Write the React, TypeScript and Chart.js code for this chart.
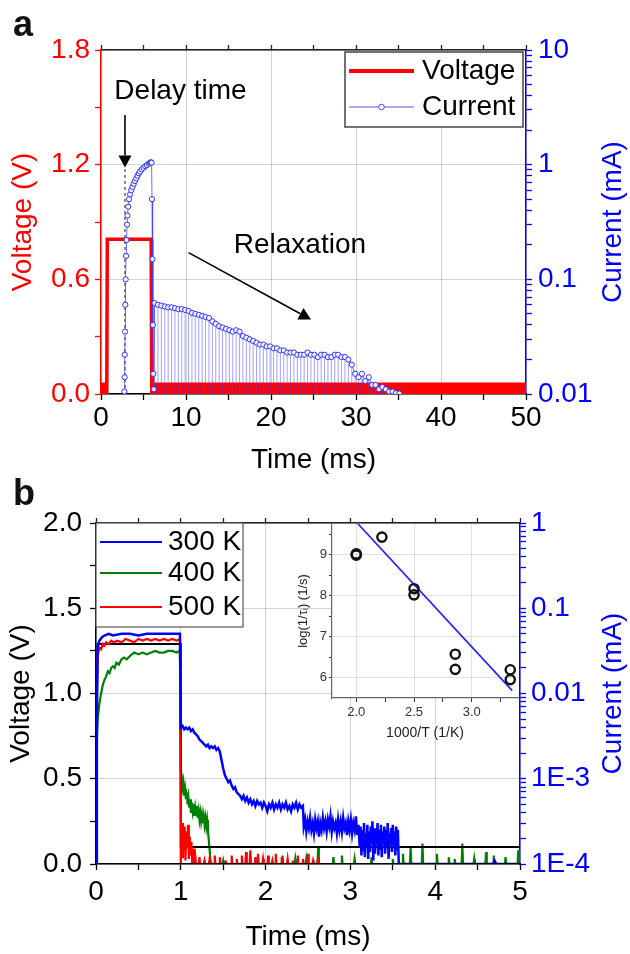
import React, { useEffect, useRef } from 'react';
import { Chart, registerables } from 'chart.js';

Chart.register(...registerables);

const FONT = '"Liberation Sans", Arial, Helvetica, sans-serif';
Chart.defaults.font.family = FONT;
Chart.defaults.color = '#000';

const RED = '#ff0000';
const BLUE = '#0000ff';
const GREEN = '#008000';
const GRID = 'rgba(0,0,0,0.17)';

/* ---------------- panel a data ---------------- */
const aVoltage = [[0, 0], [0.68, 0], [0.74, 0.81], [5.9, 0.81], [5.97, 0], [50, 0]];
const aNoiseBeforePulse = [[0, 0.06], [0.68, 0.06]];
const aNoiseAfterPulse = [[5.97, 0.06], [50, 0.06]];
const aCurrentRise = [
  [2.75, 0.0105], [2.78, 0.014], [2.8, 0.022], [2.83, 0.035], [2.86, 0.06], [2.9, 0.1], [2.95, 0.16],
  [3.0, 0.22], [3.06, 0.3], [3.12, 0.36], [3.2, 0.43], [3.3, 0.5], [3.42, 0.55], [3.56, 0.6], [3.7, 0.64],
  [3.85, 0.68], [4.0, 0.72], [4.15, 0.76], [4.3, 0.8], [4.45, 0.84], [4.6, 0.87], [4.8, 0.91], [5.0, 0.94],
  [5.2, 0.97], [5.4, 0.99], [5.6, 1.02], [5.75, 1.04], [5.85, 1.05], [5.95, 1.04], [6.0, 0.5], [6.05, 0.15],
  [6.1, 0.04], [6.15, 0.015], [6.2, 0.011],
];
const aCurrentRelax = [
  [6.3, 0.062], [6.7, 0.06], [7.1, 0.059], [7.5, 0.058], [7.9, 0.057], [8.3, 0.057], [8.7, 0.056], [9.1, 0.055],
  [9.5, 0.055], [9.9, 0.054], [10.3, 0.053], [10.7, 0.051], [11.1, 0.05], [11.5, 0.049], [11.9, 0.048],
  [12.3, 0.047], [12.7, 0.046], [13.1, 0.043], [13.5, 0.041], [13.9, 0.039], [14.3, 0.038], [14.7, 0.037],
  [15.1, 0.036], [15.5, 0.035], [15.9, 0.036], [16.3, 0.035], [16.7, 0.032], [17.1, 0.031], [17.5, 0.03],
  [17.9, 0.029], [18.3, 0.028], [18.7, 0.027], [19.1, 0.027], [19.5, 0.026], [19.9, 0.026], [20.3, 0.025],
  [20.7, 0.025], [21.1, 0.024], [21.5, 0.024], [21.9, 0.023], [22.3, 0.023], [22.7, 0.023], [23.1, 0.022],
  [23.5, 0.022], [23.9, 0.022], [24.3, 0.023], [24.7, 0.022], [25.1, 0.022], [25.5, 0.021], [25.9, 0.022],
  [26.3, 0.022], [26.7, 0.021], [27.1, 0.021], [27.5, 0.022], [27.9, 0.022], [28.3, 0.021], [28.7, 0.021],
  [29.1, 0.02], [29.5, 0.018], [29.9, 0.015], [30.3, 0.014], [30.7, 0.015], [31.1, 0.013], [31.5, 0.014],
  [31.9, 0.012], [32.3, 0.012], [32.7, 0.011], [33.1, 0.0115], [33.5, 0.011], [33.9, 0.0105], [34.3, 0.0105],
  [34.7, 0.0102], [35.1, 0.0101],
];
const aDelayMarker = [[2.82, 0], [2.82, 1.18]];

const aTimeTicks = [0, 5, 10, 15, 20, 25, 30, 35, 40, 45, 50];
const aTimeLabels = ['0', '', '10', '', '20', '', '30', '', '40', '', '50'];
const aVoltTicks = [0, 0.3, 0.6, 0.9, 1.2, 1.5, 1.8];
const aVoltLabels = ['0.0', '', '0.6', '', '1.2', '', '1.8'];
const aCurrDecades = [0.01, 0.1, 1, 10];
const aCurrDecadeLabels = ['0.01', '0.1', '1', '10'];

const aTexts = [
  { text: 'Delay time', t: 9.35, v: 1.586 },
  { text: 'Relaxation', t: 23.4, v: 0.78 },
];
const aArrows = [
  { t1: 2.82, v1: 1.46, t2: 2.82, v2: 1.185 },
  { t1: 10.3, v1: 0.74, t2: 24.7, v2: 0.39 },
];

/* ---------------- panel b data ---------------- */
const b300K = [
  [0, 0], [0.01, 1.0], [0.02, 1.28], [0.04, 1.31], [0.07, 1.33], [0.1, 1.34], [0.15, 1.35], [0.2, 1.34],
  [0.3, 1.35], [0.4, 1.35], [0.5, 1.34], [0.6, 1.35], [0.7, 1.35], [0.8, 1.35], [0.9, 1.35], [0.99, 1.35],
  [1.0, 0.8], [1.02, 0.81], [1.04, 0.79], [1.06, 0.8], [1.08, 0.79], [1.1, 0.8], [1.12, 0.78], [1.14, 0.79],
  [1.16, 0.77], [1.18, 0.76], [1.2, 0.75], [1.22, 0.73], [1.24, 0.72], [1.26, 0.71], [1.28, 0.7], [1.3, 0.69],
  [1.32, 0.7], [1.34, 0.68], [1.36, 0.69], [1.38, 0.68], [1.4, 0.69], [1.42, 0.67], [1.44, 0.68], [1.46, 0.66],
  [1.48, 0.61], [1.5, 0.56], [1.52, 0.52], [1.54, 0.5], [1.56, 0.48], [1.58, 0.49],
  [1.6, 0.46], [1.62, 0.44], [1.64, 0.45], [1.66, 0.42], [1.68, 0.41], [1.7, 0.4], [1.72, 0.38], [1.74, 0.4],
  [1.76, 0.37], [1.78, 0.39], [1.8, 0.36], [1.82, 0.38], [1.84, 0.35], [1.86, 0.37], [1.88, 0.34], [1.9, 0.37],
  [1.92, 0.35], [1.94, 0.36], [1.96, 0.33], [1.98, 0.36], [2.0, 0.34], [2.02, 0.31], [2.04, 0.35], [2.06, 0.33],
  [2.08, 0.36], [2.1, 0.32], [2.12, 0.35], [2.14, 0.33], [2.16, 0.36], [2.18, 0.32], [2.2, 0.35], [2.22, 0.33],
  [2.24, 0.36], [2.26, 0.32], [2.28, 0.34], [2.3, 0.31], [2.32, 0.35], [2.34, 0.33], [2.36, 0.36], [2.38, 0.32],
  [2.4, 0.35], [2.42, 0.33], [2.44, 0.34],
  [2.45, 0.22], [2.465, 0.26], [2.48, 0.19], [2.495, 0.25], [2.51, 0.21], [2.525, 0.27], [2.54, 0.2],
  [2.555, 0.24], [2.57, 0.18], [2.585, 0.26], [2.6, 0.21], [2.615, 0.25], [2.63, 0.16], [2.645, 0.24],
  [2.66, 0.2], [2.675, 0.27], [2.69, 0.21], [2.705, 0.25], [2.72, 0.19], [2.735, 0.26], [2.75, 0.22],
  [2.765, 0.28], [2.78, 0.19], [2.795, 0.25], [2.81, 0.21], [2.825, 0.24], [2.84, 0.18], [2.855, 0.26],
  [2.87, 0.2], [2.885, 0.25], [2.9, 0.19], [2.915, 0.27], [2.93, 0.21], [2.945, 0.24], [2.96, 0.17],
  [2.975, 0.25], [2.99, 0.2], [3.005, 0.26], [3.02, 0.18], [3.035, 0.24], [3.05, 0.2], [3.065, 0.28],
  [3.08, 0.17], [3.095, 0.23],
  [3.11, 0.1], [3.12, 0.22], [3.13, 0.05], [3.14, 0.2], [3.15, 0.08], [3.16, 0.24], [3.17, 0.04], [3.18, 0.18],
  [3.19, 0.1], [3.2, 0.23], [3.21, 0.03], [3.22, 0.19], [3.23, 0.07], [3.24, 0.22], [3.25, 0.12], [3.26, 0.25],
  [3.27, 0.02], [3.28, 0.21], [3.29, 0.06], [3.3, 0.18], [3.31, 0.11], [3.32, 0.24], [3.33, 0.05], [3.34, 0.2],
  [3.35, 0.09], [3.36, 0.23], [3.37, 0.04], [3.38, 0.19], [3.39, 0.12], [3.4, 0.22], [3.41, 0.06], [3.42, 0.2],
  [3.43, 0.1], [3.44, 0.24], [3.45, 0.03], [3.46, 0.18], [3.47, 0.13], [3.48, 0.21], [3.49, 0.07], [3.5, 0.23],
  [3.51, 0.11], [3.52, 0.19], [3.53, 0.05], [3.54, 0.22], [3.55, 0.09], [3.56, 0.2], [3.57, 0],
  [4.68, 0], [4.7, 0.02], [4.72, 0], [5.0, 0],
];
const b400K = [
  [0, 0], [0.005, 0.65], [0.02, 0.85], [0.04, 0.94], [0.06, 1.0], [0.08, 1.05], [0.1, 1.08], [0.12, 1.1],
  [0.14, 1.13], [0.16, 1.12], [0.18, 1.15], [0.2, 1.16], [0.22, 1.15], [0.24, 1.18], [0.27, 1.17], [0.3, 1.2],
  [0.33, 1.21], [0.36, 1.2], [0.4, 1.22], [0.45, 1.24], [0.5, 1.23], [0.55, 1.24], [0.6, 1.23], [0.65, 1.24],
  [0.7, 1.25], [0.75, 1.24], [0.8, 1.24], [0.85, 1.25], [0.9, 1.25], [0.95, 1.24], [0.99, 1.25], [1.0, 0.55],
  [1.01, 0.52], [1.02, 0.45], [1.03, 0.48], [1.04, 0.4], [1.05, 0.44], [1.06, 0.38], [1.07, 0.42], [1.08, 0.35],
  [1.09, 0.39], [1.1, 0.33], [1.11, 0.38], [1.12, 0.3], [1.13, 0.36], [1.14, 0.31], [1.15, 0.35], [1.16, 0.28],
  [1.17, 0.33], [1.18, 0.29], [1.19, 0.34], [1.2, 0.27], [1.21, 0.31], [1.22, 0.26], [1.23, 0.3], [1.24, 0.25],
  [1.25, 0.29], [1.26, 0.24], [1.27, 0.28], [1.28, 0.23], [1.29, 0.27], [1.3, 0.22], [1.31, 0.26], [1.32, 0.2],
  [1.33, 0.14], [1.34, 0.08], [1.35, 0.02], [1.36, 0],
];
const b400KSpikes = [
  [1.5, 0.02], [1.9, 0.02], [2.2, 0.05], [2.35, 0.03], [2.48, 0.03], [2.62, 0.1], [2.8, 0.04], [2.9, 0.05],
  [3.05, 0.03], [3.25, 0.04], [3.5, 0.03], [3.62, 0.06], [3.71, 0.1], [3.85, 0.12], [4.02, 0.06], [4.16, 0.04],
  [4.23, 0.03], [4.32, 0.12], [4.46, 0.03], [4.6, 0.07], [4.69, 0.05], [4.83, 0.04], [4.98, 0.08],
];
const b500K = [
  [0, 0], [0.01, 1.1], [0.02, 1.22], [0.04, 1.27], [0.06, 1.26], [0.08, 1.29], [0.1, 1.28], [0.12, 1.3],
  [0.15, 1.29], [0.18, 1.31], [0.21, 1.3], [0.25, 1.31], [0.3, 1.3], [0.35, 1.32], [0.4, 1.31], [0.45, 1.3],
  [0.5, 1.32], [0.55, 1.31], [0.6, 1.32], [0.65, 1.31], [0.7, 1.32], [0.75, 1.31], [0.8, 1.32], [0.85, 1.31],
  [0.9, 1.32], [0.95, 1.31], [0.99, 1.32], [1.0, 0], [1.005, 0.2], [1.015, 0.04], [1.025, 0.24], [1.035, 0.08],
  [1.045, 0.22], [1.055, 0.02], [1.065, 0.19], [1.075, 0.1], [1.085, 0.23], [1.095, 0.03], [1.105, 0.16],
  [1.115, 0.05], [1.125, 0.13], [1.135, 0], [1.145, 0.09], [1.155, 0], [1.17, 0.05], [1.18, 0],
];
const b500KSpikes = [
  [1.22, 0.04], [1.28, 0.02], [1.34, 0.03], [1.4, 0.05], [1.46, 0.04], [1.53, 0.02], [1.6, 0.05], [1.66, 0.03],
  [1.72, 0.05], [1.77, 0.07], [1.82, 0.08], [1.88, 0.04], [1.91, 0.06], [1.97, 0.03], [2.03, 0.05], [2.08, 0.02],
  [2.12, 0.06], [2.19, 0.04], [2.26, 0.03], [2.32, 0.02], [2.38, 0.05], [2.44, 0.03], [2.5, 0.06], [2.56, 0.02],
  [2.62, 0.04],
];
const bBaseline = [[0, 0], [0.02, 1.29], [1.0, 1.29], [1.0, 0.1], [5.0, 0.1]];

const bTimeTicks = [0, 0.5, 1, 1.5, 2, 2.5, 3, 3.5, 4, 4.5, 5];
const bTimeLabels = ['0', '', '1', '', '2', '', '3', '', '4', '', '5'];
const bVoltTicks = [0, 0.25, 0.5, 0.75, 1.0, 1.25, 1.5, 1.75, 2.0];
const bVoltLabels = ['0.0', '', '0.5', '', '1.0', '', '1.5', '', '2.0'];
const bCurrDecades = [1e-4, 1e-3, 0.01, 0.1, 1];
const bCurrDecadeLabels = ['1E-4', '1E-3', '0.01', '0.1', '1'];

/* ---------------- inset data ---------------- */
const insetPoints = [
  [2.0, 9.02], [2.0, 8.99], [2.222, 9.43], [2.5, 8.17], [2.5, 8.02], [2.857, 6.57], [2.857, 6.2],
  [3.333, 6.19], [3.333, 5.95],
];
const insetFit = [[2.0, 9.8], [3.35, 5.68]];
const insetXTicks = [2.0, 2.25, 2.5, 2.75, 3.0, 3.25];
const insetXLabels = ['2.0', '', '2.5', '', '3.0', ''];
const insetYTicks = [6, 6.5, 7, 7.5, 8, 8.5, 9, 9.5];
const insetYLabels = ['6', '', '7', '', '8', '', '9', ''];

const LOG_MINOR = [2, 3, 4, 5, 6, 7, 8, 9];

/* ---------------- helpers ---------------- */
const pts = (arr: number[][]) => arr.map(([x, y]) => ({ x, y }));

function withSpikes(base: number[][], spikes: number[][], end: number) {
  const out = [...base];
  spikes.forEach(([t, h]) => {
    out.push([t - 0.008, 0], [t, h], [t + 0.008, 0]);
  });
  out.push([end, 0]);
  return out;
}

function logTicks(decades: number[], labels: string[]) {
  const values: number[] = [];
  const labs: string[] = [];
  decades.forEach((d, i) => {
    values.push(d);
    labs.push(labels[i]);
    if (i < decades.length - 1) {
      LOG_MINOR.forEach((m) => {
        values.push(+(d * m).toPrecision(3));
        labs.push('');
      });
    }
  });
  return { values, labels: labs };
}

function axis(cfg: any) {
  const horizontal = cfg.position === 'top' || cfg.position === 'bottom';
  return {
    type: cfg.type || 'linear',
    position: cfg.position,
    min: cfg.min,
    max: cfg.max,
    offset: false,
    afterBuildTicks: (s: any) => {
      s.ticks = cfg.values.map((v: number) => ({ value: v }));
    },
    afterFit: (s: any) => {
      if (horizontal) s.height = cfg.size;
      else s.width = cfg.size;
    },
    ticks: {
      display: cfg.showLabels !== false,
      autoSkip: false,
      maxRotation: 0,
      minRotation: 0,
      color: cfg.color,
      font: { size: cfg.fontSize, family: FONT },
      padding: cfg.padding,
      callback: (_v: any, i: number) => cfg.labels[i] ?? '',
    },
    grid: {
      offset: false,
      drawOnChartArea: !!cfg.grid,
      color: (c: any) => (cfg.labels[c.index] ? cfg.gridColor || GRID : 'rgba(0,0,0,0)'),
      tickColor: cfg.tickColor || cfg.color,
      tickLength: cfg.tickLength,
      lineWidth: 1,
      tickWidth: cfg.tickWidth || 1.3,
    },
    border: {
      display: cfg.border !== false,
      color: cfg.borderColor || cfg.color,
      width: cfg.borderWidth ?? 1.5,
      z: cfg.borderZ ?? 0,
    },
    title: cfg.title
      ? {
          display: true,
          text: cfg.title.text,
          color: cfg.title.color,
          font: { size: cfg.title.size, family: FONT },
          padding: cfg.title.padding,
        }
      : { display: false },
  };
}

function drawText(ctx: CanvasRenderingContext2D, text: string, x: number, y: number, font: string, color: string, align: CanvasTextAlign = 'center', rotate = 0) {
  ctx.save();
  ctx.translate(x, y);
  if (rotate) ctx.rotate(rotate);
  ctx.font = font;
  ctx.fillStyle = color;
  ctx.textAlign = align;
  ctx.textBaseline = 'middle';
  ctx.fillText(text, 0, 0);
  ctx.restore();
}

function drawArrow(ctx: CanvasRenderingContext2D, x1: number, y1: number, x2: number, y2: number) {
  const ang = Math.atan2(y2 - y1, x2 - x1);
  const headLen = 12;
  const headW = 6.5;
  const bx = x2 - headLen * Math.cos(ang);
  const by = y2 - headLen * Math.sin(ang);
  ctx.save();
  ctx.strokeStyle = '#000';
  ctx.fillStyle = '#000';
  ctx.lineWidth = 1.6;
  ctx.beginPath();
  ctx.moveTo(x1, y1);
  ctx.lineTo(bx, by);
  ctx.stroke();
  ctx.beginPath();
  ctx.moveTo(x2, y2);
  ctx.lineTo(bx + headW * Math.sin(ang), by - headW * Math.cos(ang));
  ctx.lineTo(bx - headW * Math.sin(ang), by + headW * Math.cos(ang));
  ctx.closePath();
  ctx.fill();
  ctx.restore();
}

/* ---------------- panel a ---------------- */
function makeA(canvas: HTMLCanvasElement) {
  const current = [...aCurrentRise, ...aCurrentRelax];
  const stems = aCurrentRelax.flatMap(([x, y]) => [{ x, y: 0.01 }, { x, y }, { x, y: null }]);
  const currTicks = logTicks(aCurrDecades, aCurrDecadeLabels);

  const overlay = {
    id: 'overlayA',
    afterDraw(chart: any) {
      const { ctx, chartArea, scales } = chart;
      const xs = scales.x;
      const ys = scales.y;
      drawText(ctx, 'a', 23, 26, `bold 36px ${FONT}`, '#111');
      drawText(ctx, 'Current (mA)', 613, (chartArea.top + chartArea.bottom) / 2, `28px ${FONT}`, BLUE, 'center', -Math.PI / 2);
      aTexts.forEach((t) => drawText(ctx, t.text, xs.getPixelForValue(t.t), ys.getPixelForValue(t.v), `28px ${FONT}`, '#000'));
      aArrows.forEach((a) =>
        drawArrow(ctx, xs.getPixelForValue(a.t1), ys.getPixelForValue(a.v1), xs.getPixelForValue(a.t2), ys.getPixelForValue(a.v2)),
      );
      const ds = chart.data.datasets;
      const box = { x: 345, y: 52, w: 178, h: 75 };
      ctx.save();
      ctx.fillStyle = '#fff';
      ctx.fillRect(box.x, box.y, box.w, box.h);
      ctx.strokeStyle = '#444';
      ctx.lineWidth = 1.5;
      ctx.strokeRect(box.x, box.y, box.w, box.h);
      ctx.strokeStyle = RED;
      ctx.lineWidth = 4;
      ctx.beginPath();
      ctx.moveTo(349, 71);
      ctx.lineTo(414, 71);
      ctx.stroke();
      ctx.strokeStyle = 'rgba(90,90,255,0.7)';
      ctx.lineWidth = 1.5;
      ctx.beginPath();
      ctx.moveTo(349, 107);
      ctx.lineTo(414, 107);
      ctx.stroke();
      ctx.beginPath();
      ctx.arc(381.5, 107, 2.8, 0, Math.PI * 2);
      ctx.fillStyle = '#fff';
      ctx.fill();
      ctx.strokeStyle = 'rgba(60,60,255,0.9)';
      ctx.lineWidth = 1;
      ctx.stroke();
      ctx.restore();
      const vLabel = ds.find((d: any) => d.label === 'Voltage').label;
      const cLabel = ds.find((d: any) => d.label === 'Current').label;
      drawText(ctx, vLabel, 422, 71, `28px ${FONT}`, '#000', 'left');
      drawText(ctx, cLabel, 422, 107, `28px ${FONT}`, '#000', 'left');
    },
  };

  return new Chart(canvas, {
    type: 'line',
    data: {
      datasets: [
        {
          label: 'Current',
          data: pts(current),
          yAxisID: 'y1',
          borderColor: 'rgba(60,60,255,0.75)',
          borderWidth: 1,
          pointRadius: 2.6,
          pointBorderWidth: 1,
          pointBorderColor: '#3030ff',
          pointBackgroundColor: 'rgba(255,255,255,0.9)',
          order: 0,
        },
        {
          label: 'stems',
          data: stems,
          yAxisID: 'y1',
          borderColor: 'rgba(70,70,255,0.5)',
          borderWidth: 1,
          pointRadius: 0,
          spanGaps: false,
          order: 1,
        },
        {
          label: 'delay',
          data: pts(aDelayMarker),
          yAxisID: 'y',
          borderColor: '#444',
          borderWidth: 1.2,
          borderDash: [3, 3],
          pointRadius: 0,
          order: 2,
        },
        {
          label: 'Voltage',
          data: pts(aVoltage),
          yAxisID: 'y',
          borderColor: RED,
          borderWidth: 3.5,
          pointRadius: 0,
          order: 3,
        },
        {
          label: 'noise1',
          data: pts(aNoiseBeforePulse),
          yAxisID: 'y',
          borderColor: 'rgba(0,0,0,0)',
          borderWidth: 0,
          backgroundColor: RED,
          fill: 'origin',
          pointRadius: 0,
          order: 4,
        },
        {
          label: 'noise2',
          data: pts(aNoiseAfterPulse),
          yAxisID: 'y',
          borderColor: 'rgba(0,0,0,0)',
          borderWidth: 0,
          backgroundColor: RED,
          fill: 'origin',
          pointRadius: 0,
          order: 5,
        },
      ],
    } as any,
    options: {
      responsive: false,
      animation: false,
      devicePixelRatio: 1,
      events: [],
      layout: { padding: 0 },
      plugins: { legend: { display: false }, tooltip: { enabled: false } },
      scales: {
        x: axis({
          position: 'bottom', min: 0, max: 50, values: aTimeTicks, labels: aTimeLabels, color: '#000',
          size: 83, fontSize: 28, padding: 1, tickLength: 6, grid: true,
          title: { text: 'Time (ms)', color: '#000', size: 28, padding: { top: 0, bottom: 0 } },
        }),
        xTop: axis({
          position: 'top', min: 0, max: 50, values: aTimeTicks, labels: aTimeLabels, color: '#222',
          size: 50, fontSize: 28, padding: 0, tickLength: 5, grid: false, showLabels: false,
        }),
        y: axis({
          position: 'left', min: 0, max: 1.8, values: aVoltTicks, labels: aVoltLabels, color: RED,
          size: 101, fontSize: 28, padding: 5, tickLength: 6, grid: true,
          title: { text: 'Voltage (V)', color: RED, size: 28, padding: { top: 6, bottom: 0 } },
        }),
        y1: axis({
          type: 'logarithmic', position: 'right', min: 0.01, max: 10, values: currTicks.values,
          labels: currTicks.labels, color: BLUE, size: 104, fontSize: 28, padding: 6, tickLength: 6, grid: false,
        }),
      },
    } as any,
    plugins: [overlay],
  });
}

/* ---------------- panel b ---------------- */
function makeB(canvas: HTMLCanvasElement) {
  const currTicks = logTicks(bCurrDecades, bCurrDecadeLabels);
  const green = withSpikes(b400K, b400KSpikes, 5.0);
  const red = withSpikes(b500K, b500KSpikes, 5.0);

  const overlay = {
    id: 'overlayB',
    afterDraw(chart: any) {
      const { ctx, chartArea } = chart;
      drawText(ctx, 'b', 24, 18, `bold 36px ${FONT}`, '#111');
      drawText(ctx, 'Current (mA)', 613, (chartArea.top + chartArea.bottom) / 2, `28px ${FONT}`, BLUE, 'center', -Math.PI / 2);
      const box = { x: chartArea.left, y: chartArea.top, w: 147, h: 104 };
      ctx.save();
      ctx.fillStyle = '#fff';
      ctx.fillRect(box.x, box.y, box.w, box.h);
      ctx.strokeStyle = '#555';
      ctx.lineWidth = 1.2;
      ctx.strokeRect(box.x, box.y, box.w, box.h);
      ctx.restore();
      const rows = ['300 K', '400 K', '500 K'];
      const rowY = [65, 96, 130];
      rows.forEach((label, i) => {
        const d = chart.data.datasets.find((s: any) => s.label === label);
        ctx.save();
        ctx.strokeStyle = d.borderColor;
        ctx.lineWidth = 2;
        ctx.beginPath();
        ctx.moveTo(100, rowY[i]);
        ctx.lineTo(162, rowY[i]);
        ctx.stroke();
        ctx.restore();
        drawText(ctx, d.label, 168, rowY[i], `28px ${FONT}`, '#000', 'left');
      });
    },
  };

  return new Chart(canvas, {
    type: 'line',
    data: {
      datasets: [
        { label: '300 K', data: pts(b300K), borderColor: BLUE, borderWidth: 2.5, pointRadius: 0, order: 0 },
        { label: '500 K', data: pts(red), borderColor: RED, borderWidth: 2.2, pointRadius: 0, order: 1 },
        { label: 'pulse', data: pts(bBaseline), borderColor: '#000', borderWidth: 2, pointRadius: 0, order: 2 },
        { label: '400 K', data: pts(green), borderColor: GREEN, borderWidth: 2.2, pointRadius: 0, order: 3 },
      ],
    } as any,
    options: {
      responsive: false,
      animation: false,
      devicePixelRatio: 1,
      events: [],
      layout: { padding: 0 },
      plugins: { legend: { display: false }, tooltip: { enabled: false } },
      scales: {
        x: axis({
          position: 'bottom', min: 0, max: 5, values: bTimeTicks, labels: bTimeLabels, color: '#000',
          size: 90, fontSize: 28, padding: 5, tickLength: 6, grid: true, borderZ: 1,
          title: { text: 'Time (ms)', color: '#000', size: 28, padding: { top: 0, bottom: 0 } },
        }),
        xTop: axis({
          position: 'top', min: 0, max: 5, values: bTimeTicks, labels: bTimeLabels, color: '#222',
          size: 46, fontSize: 28, padding: 0, tickLength: 5, grid: false, showLabels: false,
        }),
        y: axis({
          position: 'left', min: 0, max: 2.0, values: bVoltTicks, labels: bVoltLabels, color: '#000',
          size: 96, fontSize: 28, padding: 8, tickLength: 6, grid: true,
          title: { text: 'Voltage (V)', color: '#000', size: 28, padding: { top: 4, bottom: 0 } },
        }),
        y1: axis({
          type: 'logarithmic', position: 'right', min: 1e-4, max: 1, values: currTicks.values,
          labels: currTicks.labels, color: BLUE, size: 110, fontSize: 28, padding: 5, tickLength: 6, grid: false,
        }),
      },
    } as any,
    plugins: [overlay],
  });
}

/* ---------------- inset ---------------- */
function makeInset(canvas: HTMLCanvasElement) {
  const bg = {
    id: 'insetBg',
    beforeDraw(chart: any) {
      const { ctx, chartArea } = chart;
      ctx.save();
      ctx.fillStyle = '#fff';
      ctx.fillRect(chartArea.left, chartArea.top, chartArea.right - chartArea.left, chartArea.bottom - chartArea.top);
      ctx.restore();
    },
  };
  return new Chart(canvas, {
    type: 'scatter',
    data: {
      datasets: [
        {
          label: 'tau',
          data: pts(insetPoints),
          pointRadius: 4.6,
          pointBorderWidth: 2.4,
          pointBorderColor: '#111',
          pointBackgroundColor: 'rgba(0,0,0,0)',
          showLine: false,
          order: 0,
        },
        {
          label: 'fit',
          data: pts(insetFit),
          showLine: true,
          borderColor: '#2020ff',
          borderWidth: 1.6,
          pointRadius: 0,
          order: 1,
        },
      ],
    } as any,
    options: {
      responsive: false,
      animation: false,
      devicePixelRatio: 1,
      events: [],
      layout: { padding: { top: 10, right: 7, left: 0, bottom: 0 } },
      plugins: { legend: { display: false }, tooltip: { enabled: false } },
      scales: {
        x: axis({
          position: 'bottom', min: 1.79, max: 3.4, values: insetXTicks, labels: insetXLabels, color: '#333',
          size: 52, fontSize: 13, padding: 3, tickLength: 4, grid: true, borderColor: '#666', borderWidth: 1.2,
          tickWidth: 1, gridColor: 'rgba(0,0,0,0.12)',
          title: { text: '1000/T (1/K)', color: '#222', size: 14, padding: { top: 0, bottom: 8 } },
        }),
        y: axis({
          position: 'left', min: 5.5, max: 9.75, values: insetYTicks, labels: insetYLabels, color: '#333',
          size: 52, fontSize: 13, padding: 2, tickLength: 3, grid: true, borderColor: '#666', borderWidth: 1.2,
          tickWidth: 1, gridColor: 'rgba(0,0,0,0.12)',
          title: { text: 'log(1/τᵢ) (1/s)', color: '#222', size: 13, padding: { top: 16, bottom: 0 } },
        }),
      },
    } as any,
    plugins: [bg],
  });
}

export default function App() {
  const aRef = useRef<HTMLCanvasElement>(null);
  const bRef = useRef<HTMLCanvasElement>(null);
  const iRef = useRef<HTMLCanvasElement>(null);

  useEffect(() => {
    const charts = [makeA(aRef.current!), makeB(bRef.current!), makeInset(iRef.current!)];
    return () => charts.forEach((c) => c.destroy());
  }, []);

  return (
    <div style={{ position: 'absolute', left: 0, top: 0, width: 630, height: 954, background: '#fff' }}>
      <canvas ref={aRef} width={630} height={477} style={{ position: 'absolute', left: 0, top: 0, width: 630, height: 477 }} />
      <canvas ref={bRef} width={630} height={477} style={{ position: 'absolute', left: 0, top: 477, width: 630, height: 477 }} />
      <canvas ref={iRef} width={245} height={236} style={{ position: 'absolute', left: 280, top: 514, width: 245, height: 236 }} />
    </div>
  );
}
